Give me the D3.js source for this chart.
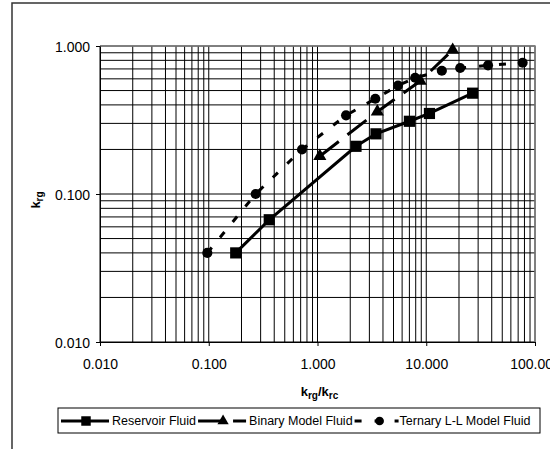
<!DOCTYPE html>
<html>
<head>
<meta charset="utf-8">
<script src="https://cdn.jsdelivr.net/npm/d3@7"></script>
<style>
  html, body { margin: 0; padding: 0; background: #fff; }
  svg { display: block; font-family: "Liberation Sans", Arial, sans-serif; }
</style>
</head>
<body>
<svg id="chart" width="550" height="449"></svg>
<script>
// ---- data ----
const xTickValues = [0.01, 0.1, 1, 10, 100];
const xTickLabels = ["0.010", "0.100", "1.000", "10.000", "100.000"];
const yTickValues = [0.01, 0.1, 1];
const yTickLabels = ["0.010", "0.100", "1.000"];

const seriesNames = ["Reservoir Fluid", "Binary Model Fluid", "Ternary L-L Model Fluid"];
const reservoirX = [0.177, 0.36, 2.26, 3.45, 7.0, 10.7, 26.7];
const reservoirY = [0.040, 0.067, 0.21, 0.255, 0.31, 0.35, 0.48];
const binaryX = [1.05, 3.55, 8.8, 17.5];
const binaryY = [0.18, 0.36, 0.58, 0.94];
const ternaryX = [0.097, 0.27, 0.72, 1.83, 3.4, 5.5, 7.9, 13.9, 20.5, 37, 77];
const ternaryY = [0.040, 0.10, 0.20, 0.34, 0.44, 0.54, 0.61, 0.68, 0.71, 0.74, 0.77];

// ---- layout ----
const svg = d3.select("#chart");
const L = 100, R = 535, T = 46, B = 342;
const x = d3.scaleLog().domain([0.01, 100]).range([L, R]);
const y = d3.scaleLog().domain([0.01, 1]).range([B, T]);

// outer chart frame (extends beyond right/bottom)
svg.append("rect").attr("x", 12).attr("y", 3).attr("width", 700).attr("height", 700)
  .attr("fill", "#fff").attr("stroke", "#333").attr("stroke-width", 1.5);

// gridlines
function gridVals(lo, hi) {
  const v = [];
  for (let d = lo; d < hi * 0.999; d *= 10) for (let k = 1; k <= 9; k++) v.push(+(k * d).toPrecision(3));
  v.push(hi);
  return v;
}
const g = svg.append("g");
g.selectAll("line.vg").data(gridVals(0.01, 100)).join("line")
  .attr("x1", d => x(d)).attr("x2", d => x(d)).attr("y1", T).attr("y2", B)
  .attr("stroke", "#000").attr("stroke-width", 1);
g.selectAll("line.hg").data(gridVals(0.01, 1)).join("line")
  .attr("x1", L).attr("x2", R).attr("y1", d => y(d)).attr("y2", d => y(d))
  .attr("stroke", "#000").attr("stroke-width", 1);

// plot border (grey top/right)
svg.append("path").attr("d", `M${L},${T}H${R}V${B}`).attr("fill", "none")
  .attr("stroke", "#808080").attr("stroke-width", 1.5);

// axes
const xAxis = d3.axisBottom(x).tickValues(xTickValues)
  .tickFormat((d, i) => xTickLabels[i]).tickSize(4).tickSizeOuter(0);
const yAxis = d3.axisLeft(y).tickValues(yTickValues)
  .tickFormat((d, i) => yTickLabels[i]).tickSize(4).tickSizeOuter(0);
const gx = svg.append("g").attr("transform", `translate(0,${B})`).call(xAxis);
const gy = svg.append("g").attr("transform", `translate(${L},0)`).call(yAxis);
[gx, gy].forEach(a => {
  a.select(".domain").attr("stroke", "#000");
  a.selectAll(".tick line").attr("stroke", "#000");
  a.selectAll(".tick text").attr("fill", "#000").attr("font-size", 14)
    .attr("font-family", "Liberation Sans, Arial, sans-serif");
});
gx.selectAll(".tick text").attr("dy", null).attr("y", 27);
gy.selectAll(".tick text").attr("x", -10).attr("dy", "0.36em");

// axis titles
const yt = svg.append("text").attr("transform", `translate(40,${(T + B) / 2 + 6}) rotate(-90)`)
  .attr("font-weight", "bold").attr("font-size", 13).attr("text-anchor", "middle");
yt.append("tspan").text("k");
yt.append("tspan").attr("font-size", 10).attr("dy", 3).text("rg");

const xt = svg.append("text").attr("x", (L + R) / 2 + 2).attr("y", 396)
  .attr("font-weight", "bold").attr("font-size", 13).attr("text-anchor", "middle");
xt.append("tspan").text("k");
xt.append("tspan").attr("font-size", 10).attr("dy", 3).text("rg");
xt.append("tspan").attr("dy", -3).text("/k");
xt.append("tspan").attr("font-size", 10).attr("dy", 3).text("rc");

// series
const line = d3.line().x(d => x(d[0])).y(d => y(d[1]));
const series = [
  { pts: d3.zip(reservoirX, reservoirY), dash: null, marker: "square" },
  { pts: d3.zip(binaryX, binaryY), dash: "24,11", marker: "triangle" },
  { pts: d3.zip(ternaryX, ternaryY), dash: "7,13", marker: "circle" }
];
const symSize = { square: 125, triangle: 75, circle: 80 };
const symType = { square: d3.symbolSquare, triangle: d3.symbolTriangle, circle: d3.symbolCircle };

series.forEach(s => {
  svg.append("path").datum(s.pts).attr("d", line).attr("fill", "none")
    .attr("stroke", "#000").attr("stroke-width", 3)
    .attr("stroke-dasharray", s.dash);
});
series.forEach(s => {
  svg.append("g").selectAll("path").data(s.pts).join("path")
    .attr("transform", d => `translate(${x(d[0])},${y(d[1])})`)
    .attr("d", d3.symbol().type(symType[s.marker]).size(symSize[s.marker]))
    .attr("fill", "#000");
});

// legend
const lg = svg.append("g");
lg.append("rect").attr("x", 58).attr("y", 408).attr("width", 482).attr("height", 25)
  .attr("fill", "#fff").attr("stroke", "#000").attr("stroke-width", 1);
let lx = 61;
const ly = 421;
const legSym = { square: 90, triangle: 55, circle: 60 };
series.forEach((s, i) => {
  lg.append("line").attr("x1", lx).attr("x2", lx + (i === 2 ? 44 : 48)).attr("y1", ly).attr("y2", ly)
    .attr("stroke", "#000").attr("stroke-width", 3).attr("stroke-dasharray", s.dash);
  lg.append("path").attr("transform", `translate(${lx + 25},${ly})`)
    .attr("d", d3.symbol().type(symType[s.marker]).size(legSym[s.marker])).attr("fill", "#000");
  const t = lg.append("text").attr("x", lx + (i === 2 ? 45 : 51)).attr("y", ly).attr("dy", "0.35em")
    .attr("font-size", 12.5).text(seriesNames[i]);
  lx = lx + (i === 2 ? 45 : 51) + t.node().getComputedTextLength() + 2;
});
</script>
</body>
</html>
